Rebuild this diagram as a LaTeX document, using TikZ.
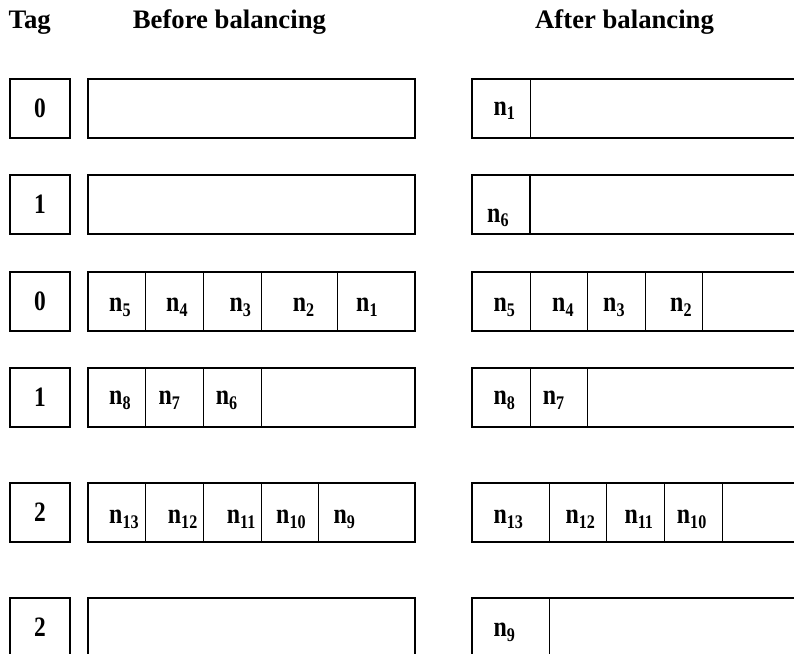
\documentclass[tikz,border=0pt]{standalone}
\usepackage{fontspec}
\usepackage{graphicx}
\setmainfont{Liberation Serif}
\newcommand\nsub[1]{\scalebox{0.92}[1.1]{n\raisebox{-4.5pt}{\fontsize{17.5}{17.5}\selectfont #1}}}
\newcommand\tg[1]{\scalebox{0.9}[1.08]{#1}}
\begin{document}
\begin{tikzpicture}[x=1pt,y=-1pt,
  box/.style={line width=2pt},
  divl/.style={line width=1pt},
  divthick/.style={line width=2.4pt},
  lbl/.style={anchor=base west,inner sep=0pt,font=\fontsize{26}{26}\selectfont\bfseries},
  head/.style={anchor=base west,inner sep=0pt,font=\fontsize{26.7}{27}\selectfont\bfseries},
  tagbox/.style={draw,line width=2pt,minimum width=60pt,minimum height=58.5pt,inner sep=0pt,font=\fontsize{26}{26}\selectfont\bfseries}]
\useasboundingbox (0,0) rectangle (794,653);
\clip (0,0) rectangle (794,653);
% headers
\node[head] (hTag) at (8.5,28.3) {Tag};
\node[head] (hBefore) at (132.7,28.3) {Before balancing};
\node[head] (hAfter) at (535,28.3) {After balancing};
% tag boxes
\node[tagbox] (t1) at (40,108.25) {\tg{0}};
\node[tagbox] (t2) at (40,204.25) {\tg{1}};
\node[tagbox] (t3) at (40,301.55) {\tg{0}};
\node[tagbox] (t4) at (40,397.25) {\tg{1}};
\node[tagbox] (t5) at (40,512.25) {\tg{2}};
\node[tagbox] (t6) at (40,627.55) {\tg{2}};
% buffer boxes
\foreach \t in {79,175,272.3,368,483,598.3}{
  \draw[box] (88,\t) rectangle (415,\t+58.5);
  \draw[box] (472,\t) rectangle (810,\t+58.5);
}
% before dividers
\foreach \x in {145.3,203,261,337.7}{\draw[divl] (\x,272.3) -- (\x,330.8);}
\foreach \x in {145.3,203,261}{\draw[divl] (\x,368) -- (\x,426.5);}
\foreach \x in {145.3,203,261,318.7}{\draw[divl] (\x,483) -- (\x,541.5);}
% after dividers
\draw[divl] (530,79) -- (530,137.5);
\draw[divthick] (530,175) -- (530,233.5);
\foreach \x in {530,587.7,645.3,702.7}{\draw[divl] (\x,272.3) -- (\x,330.8);}
\foreach \x in {530,587.7}{\draw[divl] (\x,368) -- (\x,426.5);}
\foreach \x in {549,606.7,664.3,722.3}{\draw[divl] (\x,483) -- (\x,541.5);}
\draw[divl] (549,598.3) -- (549,656.8);
% labels before
\node[lbl] (b3a) at (109,311.7) {\nsub{5}};
\node[lbl] (b3b) at (166,311.7) {\nsub{4}};
\node[lbl] (b3c) at (229.3,311.7) {\nsub{3}};
\node[lbl] (b3d) at (292.7,311.7) {\nsub{2}};
\node[lbl] (b3e) at (356,311.7) {\nsub{1}};
\node[lbl] (b4a) at (109,404.3) {\nsub{8}};
\node[lbl] (b4b) at (158.3,404.3) {\nsub{7}};
\node[lbl] (b4c) at (215.7,404.3) {\nsub{6}};
\node[lbl] (b5a) at (109,523.3) {\nsub{13}};
\node[lbl] (b5b) at (167.7,523.3) {\nsub{12}};
\node[lbl] (b5c) at (226.7,523.3) {\nsub{11}};
\node[lbl] (b5d) at (276,523.3) {\nsub{10}};
\node[lbl] (b5e) at (333.3,523.3) {\nsub{9}};
% labels after
\node[lbl] (a1) at (493.3,115) {\nsub{1}};
\node[lbl] (a2) at (487,222) {\nsub{6}};
\node[lbl] (a3a) at (493.3,311.7) {\nsub{5}};
\node[lbl] (a3b) at (552,311.7) {\nsub{4}};
\node[lbl] (a3c) at (603,311.7) {\nsub{3}};
\node[lbl] (a3d) at (670,311.7) {\nsub{2}};
\node[lbl] (a4a) at (493.3,404.3) {\nsub{8}};
\node[lbl] (a4b) at (542.7,404.3) {\nsub{7}};
\node[lbl] (a5a) at (493.3,523.3) {\nsub{13}};
\node[lbl] (a5b) at (565.3,523.3) {\nsub{12}};
\node[lbl] (a5c) at (624.3,523.3) {\nsub{11}};
\node[lbl] (a5d) at (676.7,523.3) {\nsub{10}};
\node[lbl] (a6) at (493.3,636.7) {\nsub{9}};
\end{tikzpicture}
\end{document}
